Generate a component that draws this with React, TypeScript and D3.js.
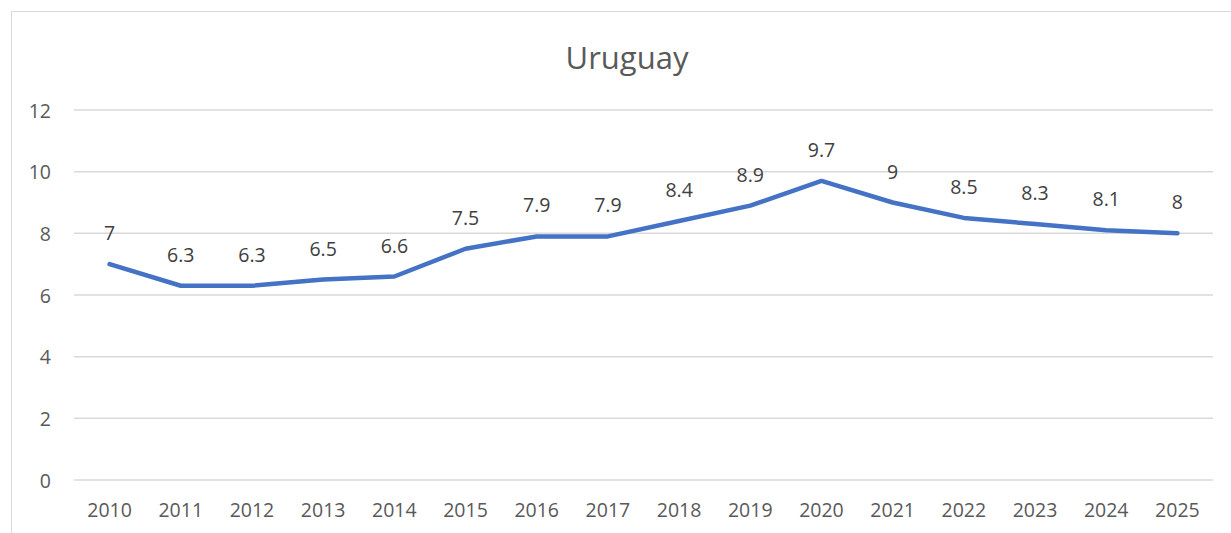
import React from "react";
import * as d3 from "d3";

const years = ["2010","2011","2012","2013","2014","2015","2016","2017","2018","2019","2020","2021","2022","2023","2024","2025"];
const values = [7, 6.3, 6.3, 6.5, 6.6, 7.5, 7.9, 7.9, 8.4, 8.9, 9.7, 9, 8.5, 8.3, 8.1, 8];
const yTicks = [0, 2, 4, 6, 8, 10, 12];
const title = "Uruguay";

export default function App() {
  const W = 1231, H = 533;
  const x = d3.scaleBand().domain(years).range([74, 1213]);
  const y = d3.scaleLinear().domain([0, 12]).range([480, 110]);
  const cx = (d: string) => (x(d) as number) + x.bandwidth() / 2;
  const line = d3.line<number>().x((_, i) => cx(years[i])).y((v) => y(v));
  const font = "'Open Sans', sans-serif";
  return (
    <svg width={W} height={H} style={{ position: "absolute", left: 0, top: 0 }}>
      <rect x={0} y={0} width={W} height={H} fill="#fff" />
      <rect x={11.5} y={11.5} width={W + 10} height={H + 10} fill="none" stroke="#d9d9d9" strokeWidth={1} />
      <text x={627} y={57} textAnchor="middle" dominantBaseline="central" fontFamily={font} fontSize={31} fill="#595959">{title}</text>
      {yTicks.map((t) => (
        <g key={t}>
          <line x1={74} x2={1213} y1={y(t)} y2={y(t)} stroke="#d9d9d9" strokeWidth={1.5} />
          <text x={51} y={y(t)} textAnchor="end" dominantBaseline="central" fontFamily={font} fontSize={19.5} fill="#595959">{t}</text>
        </g>
      ))}
      {years.map((yr) => (
        <text key={yr} x={cx(yr)} y={517} textAnchor="middle" fontFamily={font} fontSize={19.5} fill="#595959">{yr}</text>
      ))}
      <path d={line(values) as string} fill="none" stroke="#4472C4" strokeWidth={4.5} strokeLinejoin="round" strokeLinecap="round" />
      {values.map((v, i) => (
        <text key={i} x={cx(years[i])} y={y(v) - 24} textAnchor="middle" fontFamily={font} fontSize={19.5} fill="#404040">{String(v)}</text>
      ))}
    </svg>
  );
}
